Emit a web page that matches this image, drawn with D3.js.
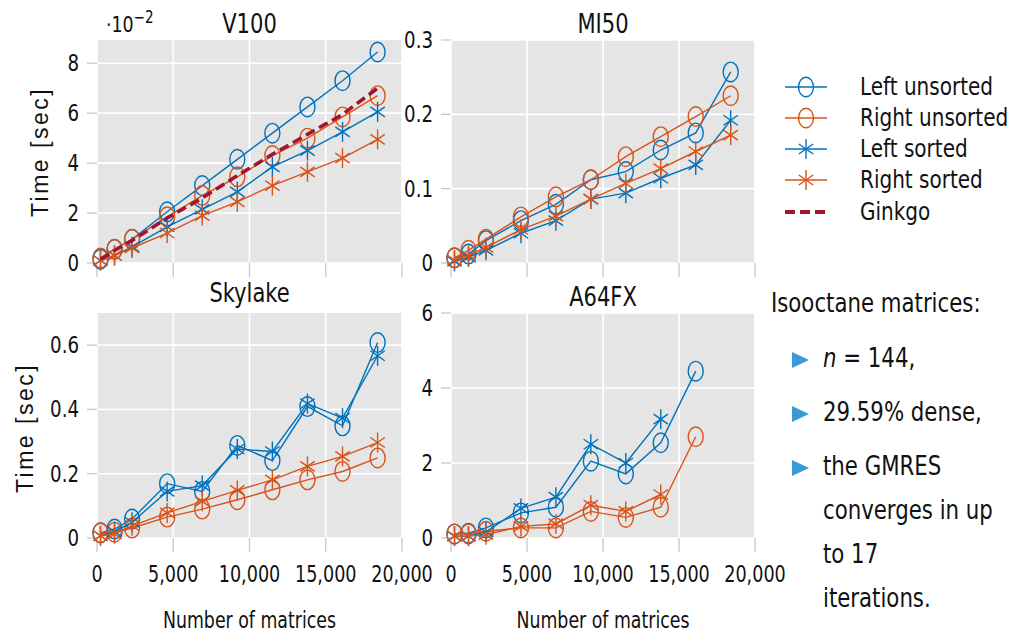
<!DOCTYPE html>
<html><head><meta charset="utf-8">
<script src="https://cdn.jsdelivr.net/npm/d3@7"></script>
<style>
body{margin:0;background:#fff}
svg text{font-family:"DejaVu Sans Condensed","DejaVu Sans","Liberation Sans",sans-serif;fill:#111}
</style></head><body>
<svg id="c" width="1026" height="635"></svg>
<script>
// ---------- data ----------
const xValues = [230, 1150, 2300, 4600, 6900, 9200, 11500, 13800, 16100, 18400];
const seriesNames = ["Left unsorted", "Right unsorted", "Left sorted", "Right sorted", "Ginkgo"];
const xTicks = [0, 5000, 10000, 15000, 20000];

const v100LeftUnsorted  = [0.15, 0.55, 0.95, 2.05, 3.1, 4.15, 5.2, 6.25, 7.3, 8.45];
const v100RightUnsorted = [0.2, 0.55, 0.95, 1.85, 2.7, 3.45, 4.3, 5.0, 5.85, 6.7];
const v100LeftSorted    = [0.1, 0.3, 0.65, 1.45, 2.15, 2.85, 3.85, 4.5, 5.25, 6.05];
const v100RightSorted   = [0.1, 0.3, 0.6, 1.2, 1.9, 2.45, 3.1, 3.65, 4.2, 4.95];
const v100Ginkgo        = [0.15, 0.5, 0.9, 1.8, 2.6, 3.5, 4.35, 5.15, 5.95, 7.0];
const v100YTicks = [0, 2, 4, 6, 8];

const mi50LeftUnsorted  = [0.007, 0.012, 0.03, 0.057, 0.079, 0.112, 0.123, 0.152, 0.175, 0.257];
const mi50RightUnsorted = [0.007, 0.017, 0.032, 0.062, 0.089, 0.112, 0.143, 0.17, 0.197, 0.225];
const mi50LeftSorted    = [0.002, 0.008, 0.017, 0.04, 0.057, 0.086, 0.094, 0.114, 0.132, 0.192];
const mi50RightSorted   = [0.004, 0.01, 0.021, 0.045, 0.063, 0.086, 0.107, 0.127, 0.15, 0.172];
const mi50YTicks = [0, 0.1, 0.2, 0.3];

const skyLeftUnsorted  = [0.016, 0.028, 0.059, 0.169, 0.145, 0.288, 0.241, 0.409, 0.349, 0.608];
const skyRightUnsorted = [0.016, 0.018, 0.031, 0.065, 0.09, 0.119, 0.15, 0.181, 0.207, 0.249];
const skyLeftSorted    = [0.007, 0.02, 0.049, 0.145, 0.163, 0.277, 0.269, 0.418, 0.373, 0.567];
const skyRightSorted   = [0.007, 0.013, 0.038, 0.078, 0.114, 0.148, 0.181, 0.223, 0.254, 0.297];
const skyYTicks = [0, 0.2, 0.4, 0.6];

const a64LeftUnsorted  = [0.11, 0.13, 0.27, 0.67, 0.82, 2.05, 1.71, 2.54, 4.45];
const a64RightUnsorted = [0.11, 0.11, 0.18, 0.27, 0.27, 0.71, 0.55, 0.82, 2.7];
const a64LeftSorted    = [0.05, 0.05, 0.16, 0.79, 1.09, 2.5, 2.0, 3.17];
const a64RightSorted   = [0.05, 0.05, 0.09, 0.31, 0.375, 0.875, 0.71, 1.16];
const a64YTicks = [0, 2, 4, 6];

const infoTitle = "Isooctane matrices:";
const infoItems = [["n = 144,"], ["29.59% dense,"], ["the GMRES", "converges in up", "to 17", "iterations."]];

// ---------- styles ----------
const BLUE = "#0072BD", ORANGE = "#D95319", RED = "#A2142F";
const styles = [
  {color: BLUE, marker: "circle"},
  {color: ORANGE, marker: "circle"},
  {color: BLUE, marker: "star"},
  {color: ORANGE, marker: "star"},
  {color: RED, marker: null, dash: true}
];

const panels = [
  {title: "V100", x0: 97, x1: 402, y0: 40, y1: 263, yMax: 8.93, yTicks: v100YTicks, xLabels: false,
   series: [v100LeftUnsorted, v100RightUnsorted, v100LeftSorted, v100RightSorted, v100Ginkgo],
   titleY: 33, ylab: {x: 48, y: 152}, exp: true},
  {title: "MI50", x0: 451, x1: 755, y0: 40, y1: 263, yMax: 0.3, yTicks: mi50YTicks, xLabels: false,
   series: [mi50LeftUnsorted, mi50RightUnsorted, mi50LeftSorted, mi50RightSorted, null],
   titleY: 33},
  {title: "Skylake", x0: 97, x1: 402, y0: 313, y1: 538, yMax: 0.70, yTicks: skyYTicks, xLabels: true,
   series: [skyLeftUnsorted, skyRightUnsorted, skyLeftSorted, skyRightSorted, null],
   titleY: 302, ylab: {x: 33, y: 428}},
  {title: "A64FX", x0: 451, x1: 755, y0: 313, y1: 538, yMax: 6, yTicks: a64YTicks, xLabels: true,
   series: [a64LeftUnsorted, a64RightUnsorted, a64LeftSorted, a64RightSorted, null],
   titleY: 306}
];

const svg = d3.select("#c");

// text helper: horizontally condensed text
function txt(parent, x, y, size, sx, anchor, baseline) {
  const g = parent.append("g").attr("transform", `translate(${x},${y}) scale(${sx},1)`);
  const t = g.append("text").attr("font-size", size).attr("text-anchor", anchor || "start");
  if (baseline) t.attr("dominant-baseline", baseline);
  return t;
}

function drawMarker(g, type, color, cx, cy) {
  if (type === "circle") {
    g.append("ellipse").attr("cx", cx).attr("cy", cy).attr("rx", 7.5).attr("ry", 9.8)
      .attr("fill", "none").attr("stroke", color).attr("stroke-width", 1.4);
  } else if (type === "star") {
    const arms = [[0, 10], [7.2, 5], [7.2, -5]];
    arms.forEach(([dx, dy]) => {
      g.append("line").attr("x1", cx - dx).attr("y1", cy - dy).attr("x2", cx + dx).attr("y2", cy + dy)
        .attr("stroke", color).attr("stroke-width", 1.4);
    });
  }
}

panels.forEach(p => {
  const x = d3.scaleLinear().domain([0, 20000]).range([p.x0, p.x1]);
  const y = d3.scaleLinear().domain([0, p.yMax]).range([p.y1, p.y0]);
  const g = svg.append("g");
  g.append("rect").attr("x", p.x0).attr("y", p.y0).attr("width", p.x1 - p.x0).attr("height", p.y1 - p.y0)
    .attr("fill", "#e5e5e5");
  // grid
  g.selectAll(".gx").data(xTicks).join("line").attr("x1", d => x(d)).attr("x2", d => x(d))
    .attr("y1", p.y0).attr("y2", p.y1).attr("stroke", "#fff").attr("stroke-width", 1.6);
  g.selectAll(".gy").data(p.yTicks).join("line").attr("y1", d => y(d)).attr("y2", d => y(d))
    .attr("x1", p.x0).attr("x2", p.x1).attr("stroke", "#fff").attr("stroke-width", 1.6);
  // ticks
  g.selectAll(".tx").data(xTicks).join("line").attr("x1", d => x(d)).attr("x2", d => x(d))
    .attr("y1", p.y1).attr("y2", p.y1 + 14).attr("stroke", "#c8c8c8").attr("stroke-width", 1.3);
  g.selectAll(".ty").data(p.yTicks).join("line").attr("y1", d => y(d)).attr("y2", d => y(d))
    .attr("x1", p.x0 - 10).attr("x2", p.x0).attr("stroke", "#c8c8c8").attr("stroke-width", 1.3);
  // y tick labels
  p.yTicks.forEach(d => {
    txt(g, p.x0 - 18, y(d), 23, 0.88, "end", "central").text(d3.format("~g")(d));
  });
  if (p.xLabels) {
    xTicks.forEach(d => {
      txt(g, x(d), p.y1 + 44, 23, 0.85, "middle").text(d3.format(",")(d));
    });
    txt(g, (p.x0 + p.x1) / 2, 628, 23, 0.84, "middle").text("Number of matrices");
  }
  txt(g, (p.x0 + p.x1) / 2, p.titleY, 26, 0.9, "middle").text(p.title);
  if (p.ylab) {
    g.append("text").attr("transform", `translate(${p.ylab.x},${p.ylab.y}) rotate(-90)`)
      .attr("text-anchor", "middle").attr("font-size", 23)
      .style("font-family", "'Liberation Sans',sans-serif").style("letter-spacing", "2.5px")
      .text("Time [sec]");
  }
  if (p.exp) {
    const t = txt(g, 106, 32, 22, 0.88, "start");
    t.append("tspan").text("·10");
    t.append("tspan").attr("dy", -9).attr("font-size", 17).text("−2");
  }
  // series
  const line = d3.line().x((d, i) => x(xValues[i])).y(d => y(d));
  p.series.forEach((vals, si) => {
    if (!vals) return;
    const st = styles[si];
    const sg = g.append("g");
    sg.append("path").datum(vals).attr("d", line).attr("fill", "none").attr("stroke", st.color)
      .attr("stroke-width", st.dash ? 3.5 : 1.4)
      .attr("stroke-dasharray", st.dash ? "10,5" : null);
    if (st.marker) vals.forEach((v, i) => drawMarker(sg, st.marker, st.color, x(xValues[i]), y(v)));
  });
});

// legend
const legY = [87, 118, 149, 180, 212];
seriesNames.forEach((name, i) => {
  const st = styles[i];
  const g = svg.append("g");
  g.append("line").attr("x1", 785).attr("x2", 827).attr("y1", legY[i]).attr("y2", legY[i])
    .attr("stroke", st.color).attr("stroke-width", st.dash ? 4 : 1.4)
    .attr("stroke-dasharray", st.dash ? "10,5" : null);
  if (st.marker) drawMarker(g, st.marker, st.color, 806, legY[i]);
  txt(g, 860, legY[i], 25, 0.89, "start", "central").text(name);
});

// info text
txt(svg, 771, 312, 26, 0.91, "start").text(infoTitle);
const itemY = [367, 421, 475];
const lineGap = 44;
infoItems.forEach((lines, i) => {
  const by = itemY[i];
  svg.append("path").attr("d", `M792,${by - 15} L809,${by - 7} L792,${by + 1} Z`).attr("fill", "#3a9ad6");
  lines.forEach((ln, j) => {
    const t = txt(svg, 823, by + j * lineGap, 26, 0.91, "start");
    if (ln.startsWith("n =")) {
      t.append("tspan").style("font-style", "italic").text("n");
      t.append("tspan").text(" = 144,");
    } else t.text(ln);
  });
});
</script></body></html>
